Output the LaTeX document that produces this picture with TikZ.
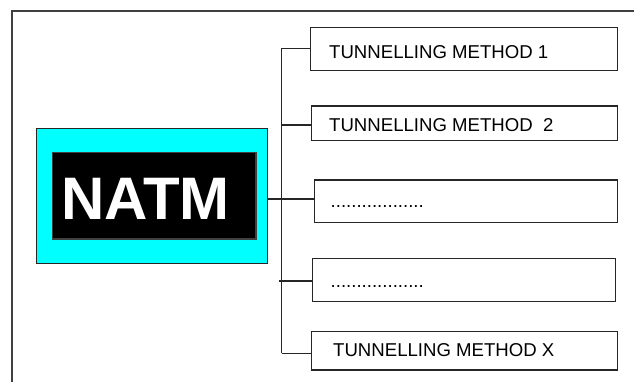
\documentclass[tikz,border=0pt]{standalone}
\usepackage{fontspec}
\setmainfont{Liberation Sans}
\definecolor{framegray}{HTML}{404040}
\definecolor{linegray}{HTML}{262626}
\definecolor{natmcyan}{HTML}{00FFFF}
\begin{document}
\begin{tikzpicture}[x=1pt,y=-1pt,
  methodbox/.style={draw=linegray, line width=1.2pt, fill=white, rectangle,
    anchor=north west, inner sep=0pt, outer sep=0pt},
  methodtext/.style={anchor=base west, inner sep=0pt, font=\fontsize{18.6}{22}\selectfont, text=black},
  connector/.style={draw=linegray, line width=1.2pt}]
  \useasboundingbox (0,0) rectangle (634,381);
  \clip (0,0) rectangle (634,381);
  \fill[white] (0,0) rectangle (634,381);

  % outer frame, open to the right and bottom
  \draw[framegray, line width=1.8pt] (11.7,400) -- (11.7,10.7) -- (660,10.7);

  % central NATM block
  \node[draw=linegray, line width=1.2pt, fill=natmcyan, anchor=north west,
        minimum width=231pt, minimum height=135.5pt, inner sep=0pt] (natm) at (35.7,127.5) {};
  \node[draw=framegray, line width=1.2pt, fill=black, anchor=north west,
        minimum width=203.6pt, minimum height=86.6pt, inner sep=0pt] (natmin) at (51.7,151.7) {};
  \node[anchor=base west, inner sep=0pt, text=white,
        font=\fontsize{60}{60}\selectfont\bfseries] (natmtext) at (60.8,219.3) {NATM};

  % method boxes
  \node[methodbox, minimum width=307pt, minimum height=43pt] (m1) at (310.7,27.7) {};
  \node[methodbox, minimum width=306pt, minimum height=34.7pt] (m2) at (311.7,106) {};
  \node[methodbox, minimum width=303.4pt, minimum height=42.3pt] (m3) at (314.3,180) {};
  \node[methodbox, minimum width=303pt, minimum height=43pt] (m4) at (312.7,258.3) {};
  \node[methodbox, minimum width=306pt, minimum height=38.3pt] (m5) at (311.7,331.7) {};

  \node[methodtext] (t1) at (329,58.3) {TUNNELLING METHOD 1};
  \node[methodtext] (t2) at (329,131.7) {TUNNELLING METHOD\ \ 2};
  \node[methodtext] (t3) at (330.5,207.3) {..................};
  \node[methodtext] (t4) at (330.5,287.8) {..................};
  \node[methodtext] (t5) at (333,356.7) {TUNNELLING METHOD X};

  % tree connectors
  \coordinate (jtop) at (281.5,48.3);
  \coordinate (j2) at (281.5,125);
  \coordinate (j3) at (natm.east |- 0,199);
  \coordinate (j4) at (279.3,281);
  \coordinate (jbot) at (281.5,353.3);

  \draw[connector] (jtop) -- (jbot);
  \draw[connector] (jtop) -- (jtop -| m1.west);
  \draw[connector] (j2) -- (j2 -| m2.west);
  \draw[connector] (j3) -- (j3 -| m3.west);
  \draw[connector] (j4) -- (j4 -| m4.west);
  \draw[connector] (jbot) -- (jbot -| m5.west);
\end{tikzpicture}
\end{document}
